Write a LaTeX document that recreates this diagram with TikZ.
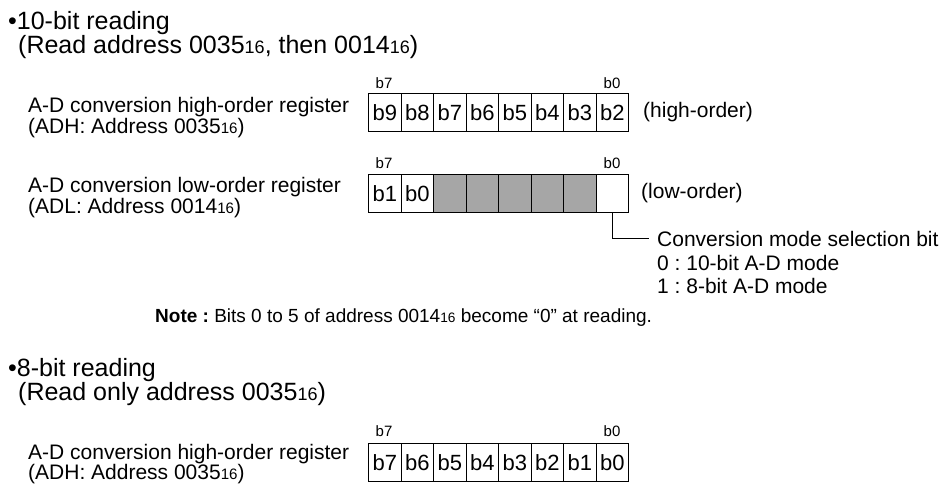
\documentclass[tikz,border=0pt]{standalone}
\usepackage{fontspec}
\setmainfont{Liberation Sans}
\usepackage{graphicx}
\newcommand{\hx}{\scalebox{0.72}{16}}
\frenchspacing
\begin{document}
\begin{tikzpicture}[x=1pt,y=-1pt,
  body/.style={anchor=base west, inner sep=0pt, font=\fontsize{21}{25}\selectfont},
  ttl/.style={anchor=base west, inner sep=0pt, font=\fontsize{25}{29}\selectfont},
  bitlbl/.style={anchor=base, inner sep=0pt, font=\fontsize{15}{18}\selectfont},
  cell/.style={draw, line width=1pt, minimum width=32.5pt, minimum height=38pt, inner sep=0pt, anchor=north west, font=\fontsize{22}{26}\selectfont},
  grcell/.style={cell, fill=black!35},
  conn/.style={draw, line width=1pt},
]
\useasboundingbox (0,0) rectangle (944,485);
% ---- 10-bit reading
\node[ttl] (t1) at (8,29) {•10-bit reading};
\node[ttl] (t2) at (18,53) {(Read address 0035\hx, then 0014\hx)};
\node[body] (hreg1) at (28,112) {A-D conversion high-order register};
\node[body] (hreg2) at (28,133) {(ADH: Address 0035\hx)};
\node[bitlbl] (hb7) at (384,88) {b7};
\node[bitlbl] (hb0) at (612,88) {b0};
\foreach \i/\t in {0/b9,1/b8,2/b7,3/b6,4/b5,5/b4,6/b3,7/b2}
  \node[cell] (h\i) at ({368+32.5*\i},93) {\t};
\node[body, anchor=west] (hi) at ([xshift=14pt]h7.east) {(high-order)};

\node[body] (lreg1) at (28,192) {A-D conversion low-order register};
\node[body] (lreg2) at (28,213) {(ADL: Address 0014\hx)};
\node[bitlbl] (lb7) at (384,168) {b7};
\node[bitlbl] (lb0) at (612,168) {b0};
\node[cell] (l0) at (368,174) {b1};
\node[cell] (l1) at (400.5,174) {b0};
\foreach \i in {2,...,6}
  \node[grcell] (l\i) at ({368+32.5*\i},174) {};
\node[cell] (l7) at (595.5,174) {};
\node[body, anchor=west] (lo) at ([xshift=12pt]l7.east) {(low-order)};

\node[body, inner xsep=8pt] (conv) at (649,246) {Conversion mode selection bit};
\draw[conn] (l7.south) |- (conv.west);
\node[body] (m0) at (657,270) {0 : 10-bit A-D mode};
\node[body] (m1) at (657,293) {1 : 8-bit A-D mode};

\node[anchor=base west, inner sep=0pt, font=\fontsize{19}{22}\selectfont] (note) at (155,322)
  {\textbf{Note :} Bits 0 to 5 of address 0014\hx{} become “0” at reading.};

% ---- 8-bit reading
\node[ttl] (t3) at (8,376) {•8-bit reading};
\node[ttl] (t4) at (18,400) {(Read only address 0035\hx)};
\node[body] (ereg1) at (28,459) {A-D conversion high-order register};
\node[body] (ereg2) at (28,479) {(ADH: Address 0035\hx)};
\node[bitlbl] (eb7) at (384,436) {b7};
\node[bitlbl] (eb0) at (612,436) {b0};
\foreach \i/\t in {0/b7,1/b6,2/b5,3/b4,4/b3,5/b2,6/b1,7/b0}
  \node[cell] (e\i) at ({368+32.5*\i},443) {\t};
\end{tikzpicture}
\end{document}
